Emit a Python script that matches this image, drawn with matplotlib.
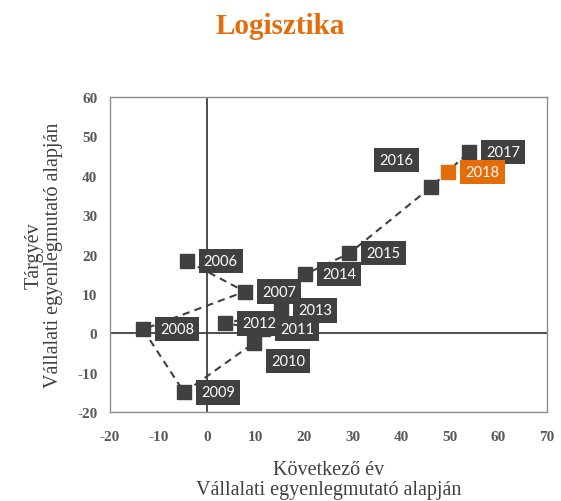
import matplotlib.pyplot as plt

plt.rcParams['axes.unicode_minus'] = False

years = ['2006', '2007', '2008', '2009', '2010', '2011', '2012',
         '2013', '2014', '2015', '2016', '2017']
next_year = [-4.2, 7.8, -13.2, -4.7, 9.7, 11.5, 3.7, 15.3, 20.2, 29.3, 46.2, 54.0]
this_year = [18.4, 10.6, 1.0, -15.0, -2.4, 1.2, 2.5, 5.8, 15.0, 20.3, 37.2, 46.1]

year_2018 = '2018'
next_2018 = 49.7
this_2018 = 40.9

# label offsets in pixels (x right, y up), from marker centre
label_off = {'2010': (34, -18), '2016': (-35, 27)}

dark = '#404040'
orange = '#E46C0A'
serif = ['Liberation Serif', 'DejaVu Serif']

fig = plt.figure(figsize=(5.61, 5.02), dpi=100)
ax = fig.add_axes([0.196, 0.177, 0.779, 0.628])

ax.axhline(0, color=dark, linewidth=1.3, zorder=1)
ax.axvline(0, color=dark, linewidth=1.3, zorder=1)

ax.plot(next_year, this_year, linestyle=(0, (3.5, 2.5)), color=dark, linewidth=1.5,
        marker='s', markersize=9.5, markerfacecolor=dark, markeredgecolor=dark, zorder=2)
ax.plot([next_2018], [this_2018], linestyle='none', marker='s', markersize=9.5,
        color=orange, zorder=3)

def put_label(x, y, txt, color):
    dx, dy = label_off.get(txt, (34, 0))
    ax.annotate(txt, (x, y), xytext=(dx, dy), textcoords='offset pixels',
                ha='center', va='center', fontsize=10.5, color='white',
                family=['Lato', 'DejaVu Sans'], zorder=4,
                bbox=dict(boxstyle='square,pad=0.35', facecolor=color, edgecolor='none'))

for yr, xv, yv in zip(years, next_year, this_year):
    put_label(xv, yv, yr, dark)
put_label(next_2018, this_2018, year_2018, orange)

ax.set_xlim(-20, 70)
ax.set_ylim(-20, 60)
ax.set_xticks(range(-20, 71, 10))
ax.set_yticks(range(-20, 61, 10))
ax.tick_params(axis='x', length=0, pad=13, colors='#595959')
ax.tick_params(axis='y', length=0, pad=9, colors='#595959')
for lab in ax.get_xticklabels() + ax.get_yticklabels():
    lab.set_family(serif)
    lab.set_fontweight('bold')
    lab.set_fontsize(11)
for s in ax.spines.values():
    s.set_color('#8c8c8c')
    s.set_linewidth(1.0)

ax.set_xlabel('Következő év\nVállalati egyenlegmutató alapján', family=serif,
              fontsize=14.5, color='#404040', labelpad=12, linespacing=1.05)
ax.set_ylabel('Tárgyév\nVállalati egyenlegmutató alapján', family=serif,
              fontsize=14.5, color='#404040', labelpad=10, linespacing=1.05)

fig.text(0.5, 0.948, 'Logisztika', ha='center', va='center', family=serif,
         fontsize=21, fontweight='bold', color=orange)

fig.savefig('out.png', dpi=100)
